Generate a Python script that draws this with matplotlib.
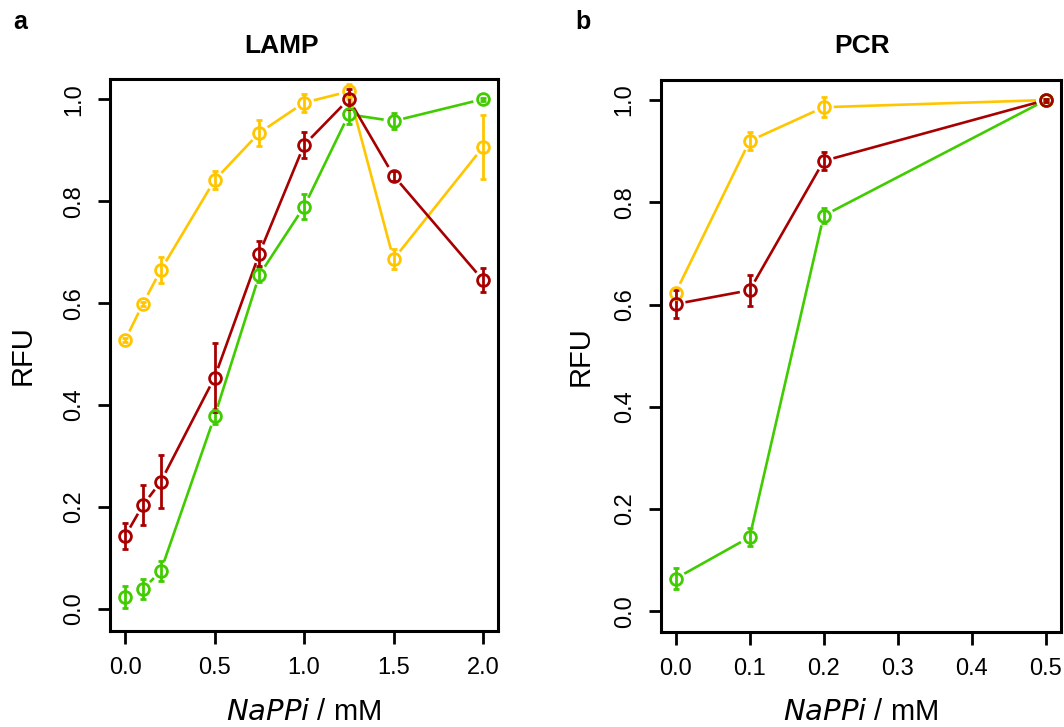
import numpy as np
import matplotlib
matplotlib.use("Agg")
import matplotlib.pyplot as plt

plt.rcParams['font.family'] = ['Liberation Sans', 'DejaVu Sans']

# LAMP data
lamp_x = [0.0, 0.1, 0.2, 0.5, 0.75, 1.0, 1.25, 1.5, 2.0]
lamp_yellow = [0.527, 0.599, 0.665, 0.841, 0.934, 0.993, 1.015, 0.686, 0.906]
lamp_yellow_err = [0.004, 0.004, 0.025, 0.018, 0.026, 0.018, 0.015, 0.02, 0.063]
lamp_red = [0.143, 0.204, 0.25, 0.454, 0.697, 0.91, 1.0, 0.85, 0.645]
lamp_red_err = [0.025, 0.04, 0.052, 0.068, 0.025, 0.025, 0.019, 0.01, 0.024]
lamp_green = [0.024, 0.039, 0.075, 0.378, 0.655, 0.789, 0.97, 0.957, 1.0]
lamp_green_err = [0.021, 0.02, 0.02, 0.015, 0.013, 0.025, 0.018, 0.015, 0.003]

# PCR data
pcr_x = [0.0, 0.1, 0.2, 0.5]
pcr_yellow = [0.623, 0.92, 0.986, 1.0]
pcr_yellow_err = [0.01, 0.018, 0.02, 0.003]
pcr_red = [0.601, 0.628, 0.881, 1.0]
pcr_red_err = [0.028, 0.03, 0.018, 0.003]
pcr_green = [0.064, 0.145, 0.774, 1.0]
pcr_green_err = [0.02, 0.018, 0.015, 0.003]

c_yellow = "#FFC600"
c_red = "#A80000"
c_green = "#40CC00"


def linea_b(ax, x, y, color, gap=10):
    # lineas con hueco alrededor de los puntos (como type="b" en R)
    pts = ax.transData.transform(np.column_stack([x, y]))
    inv = ax.transData.inverted()
    for p0, p1 in zip(pts[:-1], pts[1:]):
        d = p1 - p0
        L = np.hypot(d[0], d[1])
        if L <= 2 * gap:
            continue
        u = d / L
        a = inv.transform(np.array([p0 + u * gap, p1 - u * gap]))
        ax.plot(a[:, 0], a[:, 1], color=color, lw=1.9, solid_capstyle='butt')


def serie(ax, x, y, err, color):
    linea_b(ax, x, y, color)
    ax.errorbar(x, y, yerr=err, fmt='o', mfc='none', mec=color, ms=8.5, mew=2.0,
                ecolor=color, elinewidth=2.0, capsize=2.5, capthick=2.0)


def estilo(ax, xticks, xlabels):
    for s in ax.spines.values():
        s.set_linewidth(2.2)
    ax.set_yticks([0.0, 0.2, 0.4, 0.6, 0.8, 1.0])
    ax.set_yticklabels(["0.0", "0.2", "0.4", "0.6", "0.8", "1.0"], rotation=90, va='center')
    ax.set_xticks(xticks)
    ax.set_xticklabels(xlabels)
    ax.tick_params(axis='both', direction='out', length=9, width=2.0, labelsize=17)
    ax.tick_params(axis='x', pad=10)
    ax.tick_params(axis='y', pad=9)
    ax.set_xlabel(r"$\it{NaPPi}$ / mM", fontsize=21)
    ax.xaxis.label.set_va('center')
    ax.set_ylabel("RFU", fontsize=21)
    ax.yaxis.label.set_va('center')


fig = plt.figure(figsize=(10.64, 7.27), dpi=100)

ax1 = fig.add_axes([0.1034, 0.132, 0.3647, 0.759])
ax1.set_xlim(-0.084, 2.084)
ax1.set_ylim(-0.043, 1.039)
serie(ax1, lamp_x, lamp_yellow, lamp_yellow_err, c_yellow)
serie(ax1, lamp_x, lamp_green, lamp_green_err, c_green)
serie(ax1, lamp_x, lamp_red, lamp_red_err, c_red)
estilo(ax1, [0.0, 0.5, 1.0, 1.5, 2.0], ["0.0", "0.5", "1.0", "1.5", "2.0"])
ax1.xaxis.set_label_coords(0.5, -0.146)
ax1.yaxis.set_label_coords(-0.224, 0.5)

ax2 = fig.add_axes([0.621, 0.131, 0.376, 0.7595])
ax2.set_xlim(-0.02, 0.52)
ax2.set_ylim(-0.04, 1.04)
serie(ax2, pcr_x, pcr_yellow, pcr_yellow_err, c_yellow)
serie(ax2, pcr_x, pcr_green, pcr_green_err, c_green)
serie(ax2, pcr_x, pcr_red, pcr_red_err, c_red)
estilo(ax2, [0.0, 0.1, 0.2, 0.3, 0.4, 0.5], ["0.0", "0.1", "0.2", "0.3", "0.4", "0.5"])
ax2.xaxis.set_label_coords(0.5, -0.146)
ax2.yaxis.set_label_coords(-0.2, 0.5)

fig.text(0.265, 0.937, "LAMP", fontsize=19, fontweight='bold', ha='center', va='center')
fig.text(0.8106, 0.937, "PCR", fontsize=19, fontweight='bold', ha='center', va='center')
fig.text(0.019, 0.97, "a", fontsize=18, fontweight='bold', ha='center', va='center')
fig.text(0.548, 0.97, "b", fontsize=18, fontweight='bold', ha='center', va='center')

fig.savefig("out.png", dpi=100)
